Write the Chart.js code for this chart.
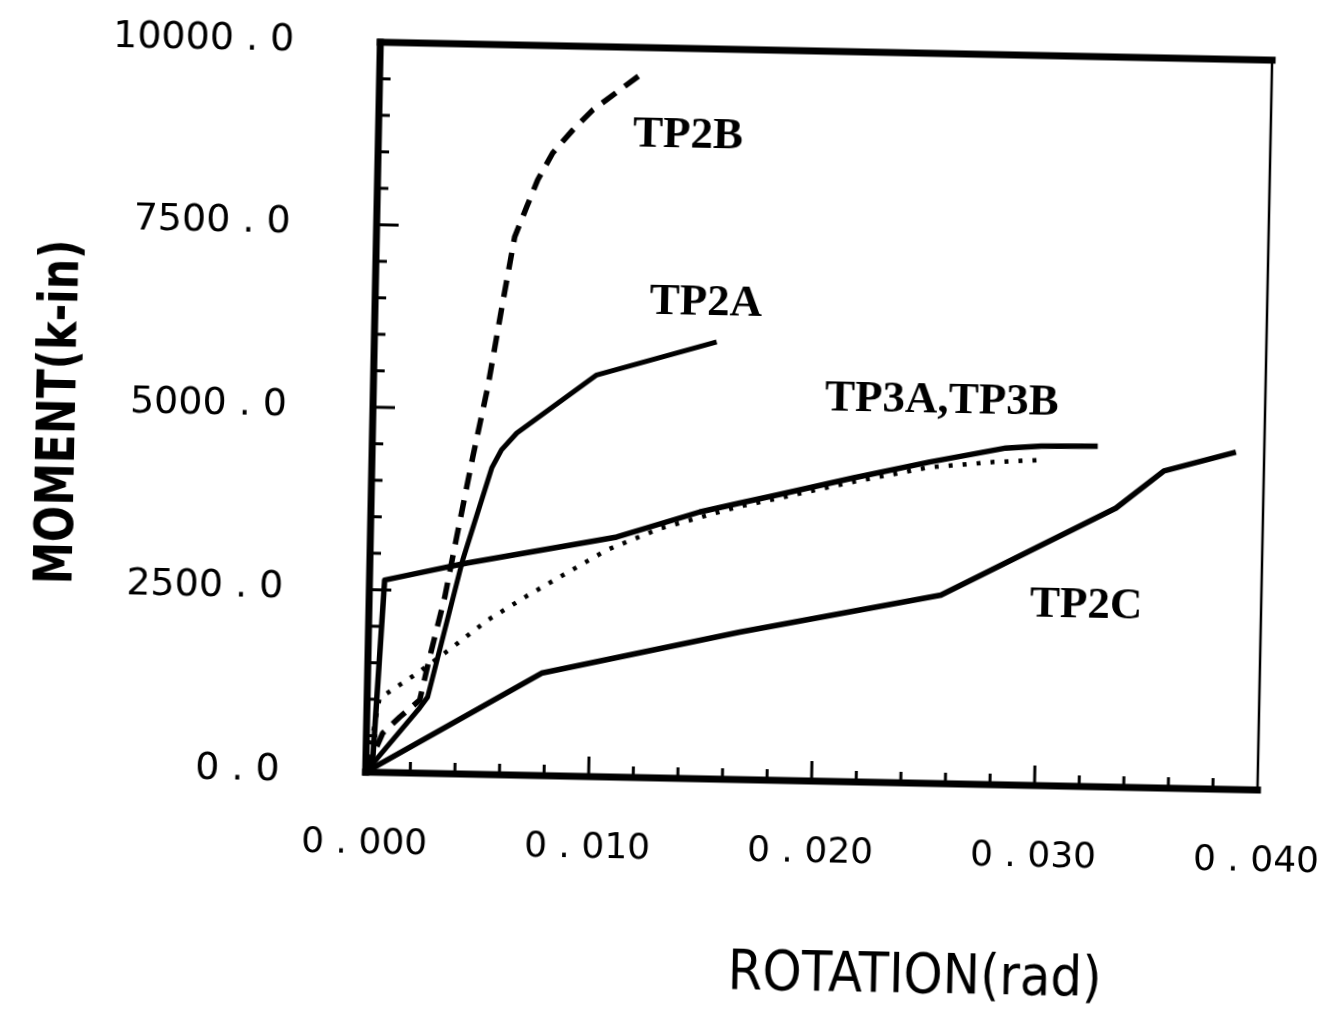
<!DOCTYPE html>
<html><head><meta charset="utf-8">
<script src="https://cdn.jsdelivr.net/npm/chart.js@4.4.0/dist/chart.umd.min.js"></script>
<style>
html,body{margin:0;padding:0;background:#fff;overflow:hidden;width:1324px;height:1017px}
#wrap{position:absolute;left:0;top:0;width:1324px;height:1017px;transform:rotate(1.15deg);transform-origin:662px 508.5px}
canvas{display:block}
</style></head><body>
<div id="wrap"><canvas id="c" width="1324" height="1017"></canvas></div>
<script>
// ---- axis ticks ----
const xTickValues = [0, 0.01, 0.02, 0.03, 0.04];
const xTickLabels = ["0 . 000", "0 . 010", "0 . 020", "0 . 030", "0 . 040"];
const yTickValues = [0, 2500, 5000, 7500, 10000];
const yTickLabels = ["0 . 0", "2500 . 0", "5000 . 0", "7500 . 0", "10000 . 0"];

// ---- series (rotation rad, moment k-in) ----
const tp2bX = [0, 0.00073, 0.00148, 0.00236, 0.00277, 0.00339, 0.00387, 0.00452, 0.00513, 0.00572, 0.0062, 0.00671, 0.00718, 0.00783, 0.00871, 0.00959, 0.01078, 0.01197];
const tp2bY = [0, 539, 763, 1001, 1593, 2419, 3245, 4345, 5308, 6463, 7370, 7783, 8157, 8531, 8851, 9131, 9412, 9694];

const tp2aX = [0, 0.00236, 0.00271, 0.00416, 0.00538, 0.0058, 0.00647, 0.01, 0.01535];
const tp2aY = [0, 892, 1044, 2932, 4199, 4450, 4685, 5502, 5987];

const tp3aX = [0, 0.0003, 0.00068, 0.00327, 0.00434, 0.01104, 0.01474, 0.01653, 0.01818, 0.02157, 0.02501, 0.02841, 0.0300, 0.03253];
const tp3aY = [0, 125, 2636, 2816, 2891, 3288, 3654, 3788, 3907, 4161, 4402, 4614, 4650, 4666];

const tp3bX = [0, 0.00056, 0.00224, 0.00379, 0.00534, 0.00706, 0.00883, 0.01061, 0.013, 0.0165, 0.0182, 0.0216, 0.025, 0.0279, 0.030];
const tp3bY = [0, 1018, 1370, 1736, 2116, 2455, 2781, 3108, 3420, 3740, 3860, 4110, 4330, 4420, 4460];

const tp2cX = [0, 0.0078, 0.01665, 0.02563, 0.0334, 0.03552, 0.03873];
const tp2cY = [0, 1404, 2021, 2582, 3822, 4343, 4622];

// ---- curve labels (data coordinates) ----
const curveLabels = ["TP2B", "TP2A", "TP3A,TP3B", "TP2C"];
const curveLabelX = [0.01388, 0.01483, 0.0255, 0.03215];
const curveLabelY = [8843, 6562, 5283, 2514];

const xTitle = "ROTATION(rad)";
const yTitle = "MOMENT(k-in)";

function pts(xs, ys) { return xs.map((v, i) => ({x: v, y: ys[i]})); }

const framePlugin = {
  id: 'frame',
  afterDraw(chart) {
    const ctx = chart.ctx;
    const {left, right, top, bottom} = chart.chartArea;
    const xs = chart.scales.x, ys = chart.scales.y;
    ctx.save();
    ctx.strokeStyle = '#000';
    ctx.lineCap = 'square';
    const line = (a, b, c, d) => { ctx.beginPath(); ctx.moveTo(a, b); ctx.lineTo(c, d); ctx.stroke(); };
    ctx.lineWidth = 7;
    line(left, top, left, bottom);
    line(left, top, right, top);
    line(left, bottom, right, bottom);
    ctx.lineWidth = 2.5;
    line(right, top, right, bottom);
    // inward ticks
    ctx.lineWidth = 3;
    ctx.lineCap = 'butt';
    for (let k = 1; k < 20; k++) {
      const v = k * 500;
      const py = ys.getPixelForValue(v);
      const len = (k % 5 === 0) ? 22 : 11;
      line(left, py, left + len, py);
    }
    for (let k = 1; k < 20; k++) {
      const v = k * 0.002;
      const px = xs.getPixelForValue(v);
      const len = (k % 5 === 0) ? 20 : 11;
      line(px, bottom, px, bottom - len);
    }
    // curve labels
    ctx.fillStyle = '#000';
    ctx.font = 'bold 45px "Liberation Serif", "Times New Roman", serif';
    ctx.textAlign = 'center';
    ctx.textBaseline = 'alphabetic';
    curveLabels.forEach((t, i) => {
      ctx.fillText(t, xs.getPixelForValue(curveLabelX[i]), ys.getPixelForValue(curveLabelY[i]) + 15);
    });
    // axis titles
    ctx.font = '56px "DejaVu Sans", sans-serif';
    ctx.save();
    ctx.translate(924, 987);
    ctx.scale(0.89, 1);
    ctx.fillText(xTitle, 0, 0);
    ctx.restore();
    ctx.save();
    ctx.translate(53, 424);
    ctx.rotate(-Math.PI / 2);
    ctx.scale(0.79, 1);
    ctx.font = 'bold 54px "DejaVu Sans", sans-serif';
    ctx.fillText(yTitle, 0, 20);
    ctx.restore();
    ctx.restore();
  }
};

const yTickFont = {family: '"DejaVu Sans", sans-serif', size: 38, weight: 'normal'};
const xTickFont = {family: '"DejaVu Sans", sans-serif', size: 36, weight: 'normal'};

new Chart(document.getElementById('c'), {
  type: 'scatter',
  data: {
    datasets: [
      {label: 'TP2B', data: pts(tp2bX, tp2bY), borderDash: [17, 11], borderWidth: 5.5},
      {label: 'TP2A', data: pts(tp2aX, tp2aY), borderWidth: 5},
      {label: 'TP3A', data: pts(tp3aX, tp3aY), borderWidth: 5.5},
      {label: 'TP3B', data: pts(tp3bX, tp3bY), borderDash: [4, 10], borderWidth: 4.5},
      {label: 'TP2C', data: pts(tp2cX, tp2cY), borderWidth: 5.5}
    ].map(d => Object.assign({showLine: true, pointRadius: 0, borderColor: '#000', backgroundColor: '#000', tension: 0, fill: false, borderJoinStyle: 'round'}, d))
  },
  options: {
    responsive: false,
    animation: false,
    events: [],
    layout: {padding: {left: 0, right: 61, top: 48, bottom: 0}},
    plugins: {legend: {display: false}, tooltip: {enabled: false}, title: {display: false}},
    scales: {
      x: {
        type: 'linear', min: 0, max: 0.04,
        border: {display: false},
        grid: {display: false, drawTicks: false},
        afterBuildTicks: s => { s.ticks = xTickValues.map(v => ({value: v})); },
        afterFit: s => { s.height = 239; s.paddingLeft = 0; s.paddingRight = 0; },
        ticks: {autoSkip: false, maxRotation: 0, minRotation: 0, padding: 50, color: '#000', font: xTickFont,
          callback: (v, i) => xTickLabels[i]}
      },
      y: {
        type: 'linear', min: 0, max: 10000,
        border: {display: false},
        grid: {display: false, drawTicks: false},
        afterBuildTicks: s => { s.ticks = yTickValues.map(v => ({value: v})); },
        afterFit: s => { s.width = 371; s.paddingTop = 0; s.paddingBottom = 0; },
        ticks: {autoSkip: false, padding: 86, color: '#000', font: yTickFont,
          callback: (v, i) => yTickLabels[i]}
      }
    }
  },
  plugins: [framePlugin]
});
</script>
</body></html>
